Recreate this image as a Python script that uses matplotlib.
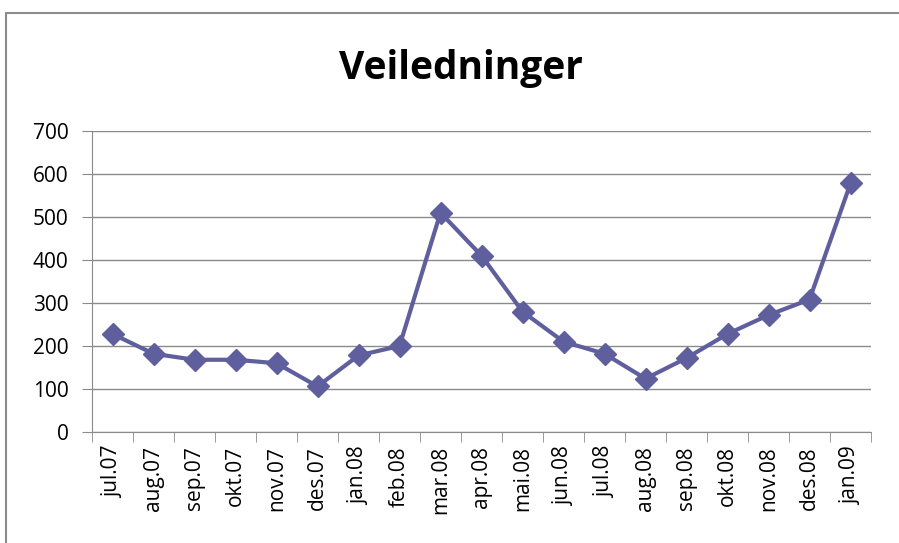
import matplotlib.pyplot as plt
from matplotlib.patches import Rectangle

# Monthly guidance counts
months = ['jul.07', 'aug.07', 'sep.07', 'okt.07', 'nov.07', 'des.07',
          'jan.08', 'feb.08', 'mar.08', 'apr.08', 'mai.08', 'jun.08',
          'jul.08', 'aug.08', 'sep.08', 'okt.08', 'nov.08', 'des.08', 'jan.09']
veiledninger = [228, 182, 168, 168, 160, 106, 178, 200, 510, 410, 280, 210,
                182, 124, 172, 228, 272, 308, 578]
y_ticks = [0, 100, 200, 300, 400, 500, 600, 700]

plt.rcParams['font.family'] = ['Open Sans', 'DejaVu Sans']

fig = plt.figure(figsize=(8.99, 5.43), dpi=100)
ax = fig.add_axes([92 / 899, 1 - 432 / 543, (871 - 92) / 899, (432 - 131) / 543])

# Chart frame
fig.patches.append(Rectangle((6 / 899, -0.01), 1.0, 1 - 13 / 543 + 0.01,
                             transform=fig.transFigure, fill=False,
                             edgecolor='#8c8c8c', linewidth=1.5))

x = list(range(len(months)))
ax.plot(x, veiledninger, color='#5f5f9d', linewidth=3, marker='D',
        markersize=11, markeredgecolor='#5f5f9d', zorder=3)

ax.set_xlim(-0.5, len(months) - 0.5)
ax.set_ylim(0, 700)
ax.set_yticks(y_ticks)
ax.yaxis.grid(True, color='#8a8a8a', linewidth=1)
ax.set_axisbelow(True)

# category labels centred, tick marks at boundaries
ax.set_xticks(x)
ax.set_xticklabels(months, rotation=90, fontsize=15)
ax.set_xticks([i - 0.5 for i in range(len(months) + 1)], minor=True)
ax.tick_params(axis='x', which='major', length=0, pad=10)
ax.tick_params(axis='x', which='minor', length=7, color='#8a8a8a', direction='out')
ax.tick_params(axis='y', length=7, color='#8a8a8a', labelsize=15, pad=10)

for side in ['top', 'right']:
    ax.spines[side].set_visible(False)
for side in ['left', 'bottom']:
    ax.spines[side].set_color('#8a8a8a')

fig.text(461 / 899, 1 - 68 / 543, 'Veiledninger', ha='center', va='center',
         fontsize=28, fontweight='bold')

fig.savefig('out.png', dpi=100)
